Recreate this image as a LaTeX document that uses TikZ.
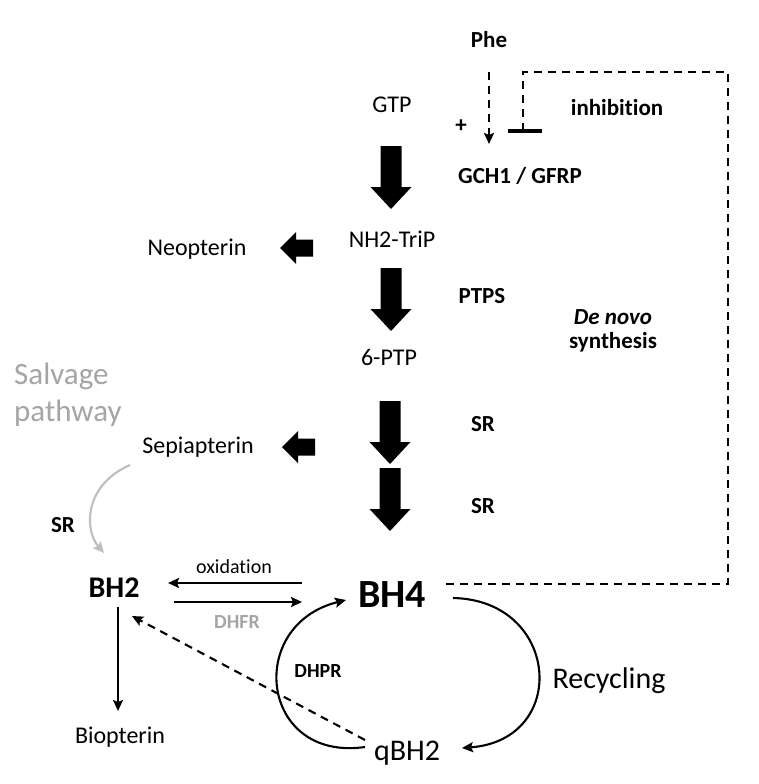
\documentclass[tikz,border=0pt]{standalone}
\usepackage{fontspec}
\setmainfont{Carlito}[Ligatures=NoCommon]
\usetikzlibrary{arrows.meta}
\definecolor{lgray}{RGB}{165,165,165}
\definecolor{cgray}{RGB}{190,190,190}
\begin{document}
\begin{tikzpicture}[x=1pt,y=-1pt,
  lbl/.style={anchor=base, inner sep=0pt, font=\fontsize{24}{28}\selectfont},
  blbl/.style={anchor=base, inner sep=0pt, font=\fontsize{23}{27}\selectfont\bfseries},
  conn/.style={line width=2.1pt, -{Stealth[length=11pt,width=10pt,inset=2pt]}},
  dsh/.style={dash pattern=on 8pt off 6pt},
  bigdown/.pic={\fill (-10.5,0) -- (10.5,0) -- (10.5,41) -- (20.5,41) -- (0,63) -- (-20.5,41) -- (-10.5,41) -- cycle;},
  smallleft/.pic={\fill (0,0) -- (16,-16) -- (16,-8.5) -- (33,-8.5) -- (33,8.5) -- (16,8.5) -- (16,16) -- cycle;}
]
\fill[white] (0,0) rectangle (758,784);
\path[use as bounding box] (0,0) rectangle (758,784);

% text nodes
\node[blbl] (phe) at (489,48) {Phe};
\node[lbl] (gtp) at (392,112) {GTP};
\node[blbl, anchor=center] (plus) at (461,126) {+};
\node[blbl] (gch) at (520,183) {GCH1 / GFRP};
\node[blbl] (inh) at (617,115) {inhibition};
\node[lbl] (nh2) at (392,247) {NH2-TriP};
\node[lbl] (neo) at (197,255) {Neopterin};
\node[blbl] (ptps) at (482,303) {PTPS};
\node[blbl, font=\fontsize{23}{27}\selectfont\bfseries\itshape] (dn) at (613,324) {De novo};
\node[blbl] (syn) at (613,348) {synthesis};
\node[lbl] (ptp) at (389,365) {6-PTP};
\node[blbl] (sr1) at (483,431) {SR};
\node[blbl] (sr2) at (483,513) {SR};
\node[lbl] (sep) at (198,453) {Sepiapterin};
\node[lbl, anchor=base west, font=\fontsize{31}{35}\selectfont, text=lgray] (salv) at (14,384) {Salvage};
\node[lbl, anchor=base west, font=\fontsize{31}{35}\selectfont, text=lgray] (pathw) at (14,421) {pathway};
\node[blbl] (sr3) at (63,532) {SR};
\node[blbl, font=\fontsize{30}{34}\selectfont\bfseries] (bh2) at (114,597) {BH2};
\node[blbl, font=\fontsize{40}{44}\selectfont\bfseries] (bh4) at (392,607) {BH4};
\node[lbl, font=\fontsize{20}{24}\selectfont] (ox) at (234,573) {oxidation};
\node[blbl, font=\fontsize{20}{24}\selectfont\bfseries, text=lgray] (dhfr) at (237,628) {DHFR};
\node[blbl, font=\fontsize{20}{24}\selectfont\bfseries] (dhpr) at (318,677) {DHPR};
\node[lbl] (bio) at (120,743) {Biopterin};
\node[lbl, font=\fontsize{30}{34}\selectfont] (qbh2) at (407,760) {qBH2};
\node[lbl, font=\fontsize{30}{34}\selectfont] (rec) at (609,688) {Recycling};

% big block arrows
\pic at (391,146) {bigdown};
\pic at (391,268) {bigdown};
\pic at (390,401) {bigdown};
\pic at (390,468) {bigdown};
\pic at (280,248) {smallleft};
\pic at (282,447) {smallleft};

% connector coordinates
\coordinate (pheS) at (489,72);
\coordinate (pheE) at (489,144);
\coordinate (bh4R) at (446,584);
\coordinate (fbR) at (728,584);
\coordinate (fbTR) at (728,72);
\coordinate (fbTL) at (523,72);
\coordinate (tbar) at (523,131);
\coordinate (tbarL) at (508,131);
\coordinate (tbarR) at (542,131);
\coordinate (oxS) at (302,583);
\coordinate (oxE) at (168,583);
\coordinate (dfS) at (174,602);
\coordinate (dfE) at (302,602);
\coordinate (bh2B) at (118,607);
\coordinate (bioT) at (118,711);
\coordinate (qL) at (365,740);
\coordinate (bh2D) at (132,616);
\coordinate (qL2) at (365,747);
\coordinate (bh4L) at (346,600);
\coordinate (bh4R2) at (453,598);
\coordinate (qR) at (462,748);
\coordinate (sepB) at (130,465);
\coordinate (bh2T) at (104,553);

% connectors
\draw[conn, dsh, line width=2.2pt] (pheS) -- (pheE);
\draw[dsh, line width=2.6pt] (bh4R) -- (fbR) -- (fbTR) -- (fbTL) -- (tbar);
\draw[line width=3.5pt] (tbarL) -- (tbarR);
\draw[conn] (oxS) -- (oxE);
\draw[conn] (dfS) -- (dfE);
\draw[conn] (bh2B) -- (bioT);
\draw[conn, dsh] (qL) -- (bh2D);
\draw[conn] (qL2) .. controls (260,762) and (245,625) .. (bh4L);
\draw[conn] (bh4R2) .. controls (560,600) and (570,740) .. (qR);
\draw[conn, draw=cgray] (sepB) .. controls (84,485) and (84,530) .. (bh2T);
\end{tikzpicture}
\end{document}
